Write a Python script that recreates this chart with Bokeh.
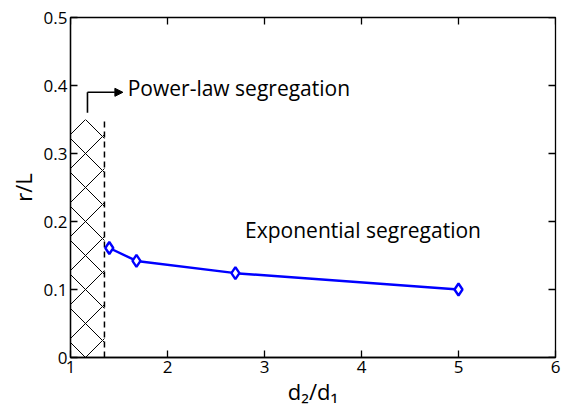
import math
from bokeh.plotting import figure
from bokeh.models import (Range1d, FixedTicker, Arrow, NormalHead,
                          Label, ColumnDataSource)
from bokeh.embed import file_html
from bokeh.resources import INLINE

# ---- data ----
ratio = [1.4, 1.68, 2.7, 5.0]          # d2/d1
r_over_L = [0.161, 0.142, 0.124, 0.100]

x_ticks = [1, 2, 3, 4, 5, 6]
x_tick_labels = ["1", "2", "3", "4", "5", "6"]
y_ticks = [0, 0.1, 0.2, 0.3, 0.4, 0.5]
y_tick_labels = ["0", "0.1", "0.2", "0.3", "0.4", "0.5"]

powerlaw_limit = 1.35     # boundary of power-law region
powerlaw_top = 0.35

FONT = "Open Sans"
X0, X1 = x_ticks[0], x_ticks[-1]
Y0, Y1 = y_ticks[0], y_ticks[-1]

p = figure(width=564, height=408, output_backend="svg", toolbar_location=None,
           x_range=Range1d(X0, X1), y_range=Range1d(Y0, Y1),
           x_axis_label="d₂/d₁", y_axis_label="r/L",
           min_border_left=70, min_border_right=9, min_border_top=17,
           min_border_bottom=51)
p.grid.visible = False
p.outline_line_color = "black"
p.outline_line_width = 1.3
p.background_fill_color = "white"
p.border_fill_color = "white"

def style_axis(ax, ticks, labels):
    ax.ticker = FixedTicker(ticks=ticks)
    ax.major_label_overrides = {t: l for t, l in zip(ticks, labels)}
    ax.major_tick_in = 7
    ax.major_tick_out = 0
    ax.minor_tick_in = 0
    ax.minor_tick_out = 0
    ax.axis_line_color = "black"
    ax.axis_line_width = 1.3
    ax.major_tick_line_color = "black"
    ax.major_tick_line_width = 1.3
    ax.major_label_text_font = FONT
    ax.major_label_text_font_size = "17px"
    ax.major_label_text_color = "black"
    ax.major_label_standoff = 3
    ax.axis_label_text_font = FONT
    ax.axis_label_text_font_size = "22px"
    ax.axis_label_text_font_style = "normal"
    ax.axis_label_text_color = "black"

style_axis(p.xaxis[0], x_ticks, x_tick_labels)
style_axis(p.yaxis[0], y_ticks, y_tick_labels)
p.xaxis[0].axis_label_standoff = 0
p.yaxis[0].axis_label_standoff = 3

# mirrored inward ticks on the top and right frame edges
p.scatter(x=[X1] * len(y_ticks), y=y_ticks, marker="dash", size=14,
          line_color="black", line_width=1.3)
p.scatter(x=x_ticks, y=[Y1] * len(x_ticks), marker="dash", size=14,
          angle=math.pi / 2, line_color="black", line_width=1.3)

# hatched power-law region
p.quad(left=[X0], right=[powerlaw_limit], bottom=[Y0], top=[powerlaw_top],
       fill_color=None, line_color=None, hatch_pattern="x", hatch_scale=34,
       hatch_color="black", hatch_weight=1)
p.segment(x0=[powerlaw_limit], y0=[Y0], x1=[powerlaw_limit], y1=[powerlaw_top],
          line_color="black", line_width=1.5, line_dash="6 4")

# bent arrow
p.segment(x0=[1.175], y0=[0.36], x1=[1.175], y1=[0.39],
          line_color="black", line_width=1.6)
p.add_layout(Arrow(x_start=1.175, y_start=0.39, x_end=1.54, y_end=0.39,
                   line_color="black", line_width=1.6,
                   end=NormalHead(size=8, fill_color="black", line_color="black")))

p.add_layout(Label(x=1.59, y=0.397, text="Power-law segregation",
                   text_font=FONT, text_font_size="21px", text_baseline="middle",
                   text_color="black"))
p.add_layout(Label(x=2.8, y=0.187, text="Exponential segregation",
                   text_font=FONT, text_font_size="21px", text_baseline="middle",
                   text_color="black"))

src = ColumnDataSource(dict(x=ratio, y=r_over_L))
p.line("x", "y", source=src, line_color="#0000ff", line_width=2.4)
p.scatter("x", "y", source=src, marker="diamond", size=12, fill_color="white",
          line_color="#0000ff", line_width=2.4)

open("out.html", "w").write(file_html(p, INLINE))
